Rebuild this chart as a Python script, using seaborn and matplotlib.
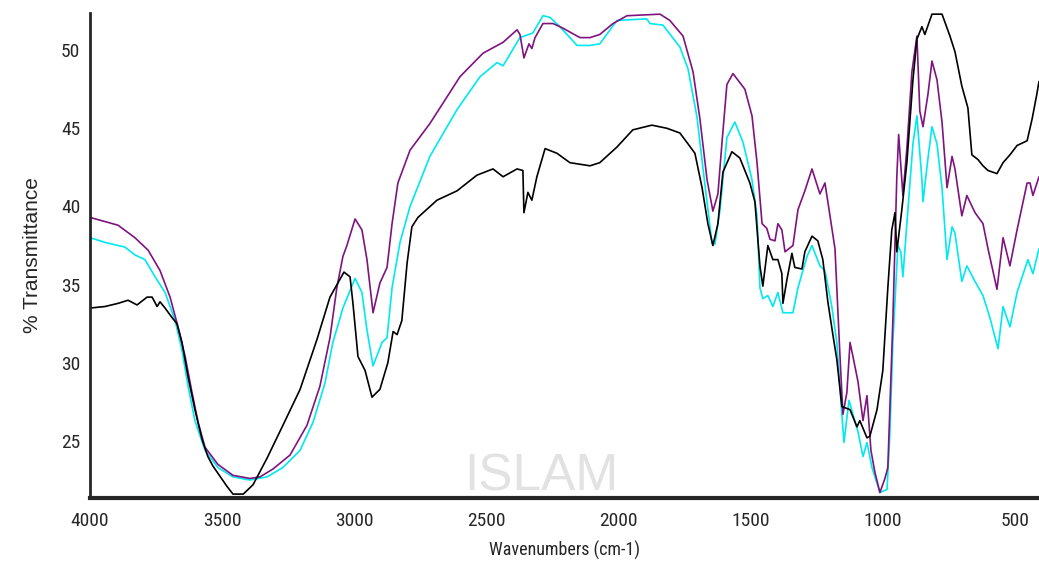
import matplotlib
matplotlib.use("Agg")
import matplotlib.pyplot as plt
import seaborn as sns

# FTIR spectra (wavenumber cm-1, %T)
black_wn = [4000, 3943, 3894, 3856, 3822, 3784, 3765, 3746, 3735, 3716, 3690, 3671, 3652, 3629,
            3603, 3576, 3554, 3535, 3482, 3459, 3420, 3383, 3330, 3270, 3205, 3141, 3092, 3039,
            3016, 3005, 2986, 2959, 2933, 2903, 2873, 2853, 2838, 2820, 2800, 2782, 2759, 2687,
            2611, 2536, 2475, 2437, 2384, 2362, 2358, 2343, 2328, 2309, 2278, 2233, 2184, 2146,
            2108, 2071, 2006, 1946, 1874, 1817, 1768, 1737, 1711, 1684, 1662, 1643, 1624, 1605,
            1571, 1541, 1503, 1484, 1465, 1454, 1435, 1416, 1397, 1382, 1378, 1363, 1344, 1333,
            1306, 1295, 1268, 1246, 1227, 1208, 1189, 1174, 1155, 1124, 1098, 1087, 1060, 1049,
            1022, 1000, 981, 966, 954, 947, 928, 909, 886, 871, 852, 841, 814, 776, 746, 727,
            701, 678, 663, 640, 621, 602, 568, 545, 519, 492, 454, 435, 417, 409]
black_t = [33.5, 33.6, 33.8, 34.0, 33.7, 34.2, 34.2, 33.6, 33.9, 33.5, 32.9, 32.5, 31.3, 29.1,
           27.0, 25.1, 24.0, 23.4, 22.1, 21.6, 21.6, 22.2, 23.9, 26.0, 28.3, 31.5, 34.2, 35.8,
           35.5, 33.8, 30.4, 29.5, 27.8, 28.3, 30.0, 32.0, 31.8, 32.7, 36.4, 38.7, 39.3, 40.4,
           41.0, 42.0, 42.4, 41.9, 42.4, 42.3, 39.6, 40.9, 40.4, 41.9, 43.7, 43.4, 42.8, 42.7,
           42.6, 42.8, 43.8, 44.9, 45.2, 45.0, 44.7, 44.0, 43.4, 41.2, 38.9, 37.5, 38.9, 42.2,
           43.5, 43.1, 41.5, 40.3, 36.2, 34.9, 37.5, 36.6, 36.6, 35.7, 33.8, 35.3, 37.0, 36.1,
           36.0, 37.1, 38.1, 37.8, 36.6, 33.9, 31.8, 30.2, 27.2, 27.0, 25.9, 26.3, 25.2, 25.3,
           27.0, 29.5, 34.8, 38.5, 39.6, 37.1, 39.8, 42.8, 48.1, 50.7, 51.5, 51.0, 52.3, 52.3,
           50.9, 49.9, 47.7, 46.3, 43.3, 43.0, 42.6, 42.3, 42.1, 42.8, 43.3, 43.9, 44.2, 45.6,
           47.2, 48.0]

purple_wn = [4000, 3894, 3830, 3780, 3735, 3697, 3667, 3640, 3614, 3591, 3565, 3516, 3459, 3395,
             3357, 3308, 3243, 3179, 3130, 3092, 3066, 3043, 3028, 2997, 2971, 2952, 2929, 2903,
             2876, 2857, 2835, 2789, 2714, 2600, 2513, 2437, 2384, 2373, 2358, 2339, 2328, 2316,
             2286, 2248, 2210, 2146, 2108, 2071, 2021, 1968, 1843, 1806, 1756, 1718, 1692, 1665,
             1643, 1624, 1609, 1590, 1567, 1522, 1495, 1476, 1457, 1439, 1427, 1408, 1397, 1382,
             1370, 1340, 1321, 1295, 1268, 1238, 1219, 1208, 1181, 1162, 1151, 1136, 1124, 1113,
             1094, 1075, 1060, 1045, 1030, 1011, 992, 981, 962, 947, 940, 924, 909, 890, 871, 860,
             848, 829, 814, 795, 776, 757, 738, 727, 701, 682, 651, 621, 602, 568, 545, 519, 492,
             454, 443, 432, 409]
purple_t = [39.3, 38.8, 38.0, 37.2, 35.9, 34.2, 32.3, 30.4, 28.1, 26.2, 24.6, 23.5, 22.8, 22.6,
            22.7, 23.2, 24.1, 26.0, 28.5, 31.6, 34.8, 36.8, 37.5, 39.2, 38.5, 36.6, 33.2, 35.1,
            36.1, 38.9, 41.5, 43.6, 45.3, 48.3, 49.8, 50.5, 51.3, 51.0, 49.5, 50.4, 50.1, 50.8,
            51.7, 51.7, 51.4, 50.8, 50.8, 51.0, 51.7, 52.2, 52.3, 51.9, 50.9, 48.6, 45.6, 41.7,
            39.7, 40.8, 44.0, 47.8, 48.5, 47.5, 45.8, 42.8, 38.9, 38.6, 37.9, 37.8, 38.9, 38.5,
            37.1, 37.5, 39.8, 41.0, 42.4, 40.8, 41.5, 40.3, 37.3, 30.4, 26.7, 28.1, 31.3, 30.4,
            28.8, 26.3, 27.9, 24.4, 23.0, 21.7, 22.6, 23.3, 32.7, 41.9, 44.6, 40.7, 43.7, 48.6,
            50.9, 46.1, 45.1, 47.2, 49.3, 48.1, 45.4, 41.2, 43.2, 42.4, 39.4, 40.7, 39.6, 38.9,
            37.3, 34.7, 38.0, 36.2, 38.5, 41.5, 41.5, 40.7, 41.9]

cyan_wn = [4000, 3943, 3868, 3830, 3792, 3754, 3716, 3678, 3652, 3629, 3603, 3565, 3516, 3459,
           3395, 3330, 3270, 3205, 3156, 3111, 3081, 3043, 2997, 2971, 2952, 2929, 2895, 2876,
           2857, 2827, 2789, 2714, 2611, 2524, 2460, 2437, 2373, 2324, 2286, 2260, 2222, 2157,
           2108, 2071, 2006, 1893, 1881, 1832, 1768, 1737, 1703, 1681, 1646, 1635, 1616, 1590,
           1560, 1529, 1495, 1476, 1465, 1454, 1435, 1416, 1397, 1378, 1340, 1321, 1287, 1268,
           1238, 1219, 1193, 1174, 1155, 1147, 1128, 1113, 1094, 1075, 1060, 1041, 1011, 984,
           973, 962, 943, 932, 924, 905, 886, 871, 852, 848, 829, 814, 795, 776, 757, 738, 727,
           701, 682, 651, 621, 595, 564, 545, 519, 492, 451, 432, 409]
cyan_t = [38.0, 37.7, 37.4, 36.9, 36.6, 35.5, 34.5, 32.7, 30.8, 28.5, 26.3, 24.4, 23.3, 22.7,
          22.5, 22.7, 23.3, 24.4, 26.2, 28.7, 31.3, 33.5, 35.4, 34.5, 32.1, 29.8, 31.3, 31.6,
          34.8, 37.7, 40.0, 43.2, 46.2, 48.3, 49.2, 49.0, 50.8, 51.1, 52.2, 52.1, 51.5, 50.3,
          50.3, 50.4, 51.9, 52.0, 51.7, 51.6, 50.2, 48.8, 45.7, 42.5, 37.6, 37.6, 39.8, 44.4,
          45.4, 44.1, 41.7, 39.4, 34.8, 34.1, 34.3, 33.6, 34.5, 33.2, 33.2, 34.8, 36.8, 37.5,
          36.2, 35.9, 33.6, 31.3, 26.7, 24.9, 27.6, 26.7, 25.6, 24.0, 24.9, 23.3, 21.7, 21.9,
          25.6, 31.3, 37.5, 37.1, 35.5, 39.8, 44.0, 45.8, 41.7, 40.3, 43.1, 45.1, 44.0, 41.2,
          36.6, 38.7, 38.3, 35.2, 36.2, 35.2, 34.3, 32.9, 30.9, 33.6, 32.3, 34.5, 36.6, 35.7,
          37.3]

x_ticks = [4000, 3500, 3000, 2500, 2000, 1500, 1000, 500]
y_ticks = [25, 30, 35, 40, 45, 50]

sns.set_style("white")
plt.rcParams["font.family"] = ["Roboto Condensed", "Liberation Sans", "DejaVu Sans"]

fig = plt.figure(figsize=(10.39, 5.66), dpi=100)
ax = fig.add_axes([90 / 1039, 68 / 566, 949 / 1039, 485.4 / 566])

# faint watermark behind the data
fig.text(0.521, 0.157, "ISLAM", color="#e2e2e2", fontsize=37,
         family=["Liberation Sans", "DejaVu Sans"], ha="center", va="center", zorder=0)
ax.patch.set_alpha(0)

sns.lineplot(x=cyan_wn, y=cyan_t, sort=False, estimator=None, color="#00e8f0", lw=1.2, ax=ax)
sns.lineplot(x=purple_wn, y=purple_t, sort=False, estimator=None, color="#7f137f", lw=1.2, ax=ax)
sns.lineplot(x=black_wn, y=black_t, sort=False, estimator=None, color="black", lw=1.2, ax=ax)

ax.set_xlim(4000, 409)
ax.set_ylim(21.35, 52.4)
ax.set_xticks(x_ticks)
ax.set_yticks(y_ticks)
ax.tick_params(axis="x", length=3, width=1, pad=7, labelsize=14)
ax.tick_params(axis="y", length=5, width=1.5, pad=2, labelsize=14)

for side in ["top", "right"]:
    ax.spines[side].set_visible(False)
ax.spines["left"].set_linewidth(2)
ax.spines["bottom"].set_linewidth(3)

ax.set_xlabel("Wavenumbers (cm-1)", fontsize=13, labelpad=8)
ax.set_ylabel("% Transmittance", fontsize=15, family=["Liberation Sans", "DejaVu Sans"],
              labelpad=14)

fig.savefig("out.png", dpi=100)
